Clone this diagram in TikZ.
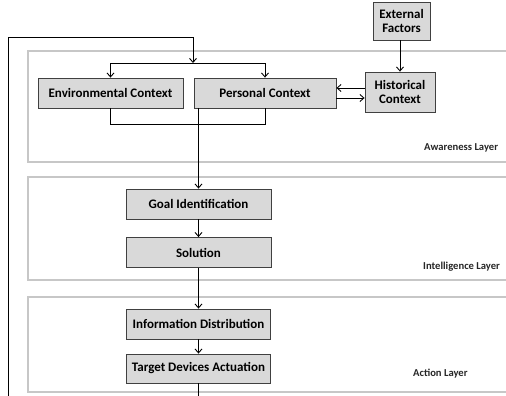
\documentclass[tikz,border=0pt]{standalone}
\usepackage{fontspec}
\setmainfont{Carlito}
\usepackage{tikz}
\usetikzlibrary{arrows,arrows.meta}
\usetikzlibrary{positioning,fit,calc}

\begin{document}
\begin{tikzpicture}[
  node distance=10mm,
  layerTitle/.style={font=\fontsize{10.6}{10.6}\selectfont\bfseries\color{black!85}, anchor=west, inner sep=0pt},
  flow/.style={-{Straight Barb[length=4pt,width=7pt]}, line width=0.9pt, black}
]
	\tikzstyle{contextBox} = [rectangle, minimum width=145pt, minimum height=30pt, text centered, draw=black!75, fill=black!15, line width=0.8pt, font=\fontsize{13}{13}\selectfont\bfseries]
	\tikzstyle{sideBox} = [rectangle, minimum width=70pt, minimum height=40pt, align=center, draw=black!75, fill=black!15, line width=0.8pt, font=\fontsize{13}{14.5}\selectfont\bfseries]
	\tikzstyle{layerBox} = [rectangle, draw=black!22, line width=1.6pt, anchor=north west, minimum width=500pt]

	\useasboundingbox (0,0) rectangle (506pt,-396pt);

	% layers
	\node (awarenessLayer) [layerBox, minimum height=111pt] at (27pt,-50pt) {};
	\node (intelligenceLayer) [layerBox, minimum height=103pt] at (27pt,-176pt) {};
	\node (actionLayer) [layerBox, minimum height=95pt] at (27pt,-296pt) {};
	\node (awarenessLabel) [layerTitle] at (424pt,-148pt) {Awareness Layer};
	\node (intelligenceLabel) [layerTitle] at (423pt,-267pt) {Intelligence Layer};
	\node (actionLabel) [layerTitle] at (413pt,-374pt) {Action Layer};

	% awareness layer
	\node (envContext) [contextBox] at (110.5pt,-93pt) {Environmental Context};
	\node (personalContext) [contextBox, minimum width=142pt, right of=envContext, node distance=154.5pt] {Personal Context};
	\node (historicalContext) [sideBox, right of=personalContext, node distance=135pt, yshift=1pt] {Historical\\Context};
	\node (externalFactors) [sideBox, minimum width=57pt, minimum height=38pt, above of=historicalContext, node distance=71pt, xshift=1.5pt] {External\\Factors};

	% intelligence layer
	\node (goalId) [contextBox, below of=personalContext, node distance=111pt, xshift=-66.5pt] {Goal Identification};
	\node (solution) [contextBox, below of=goalId, node distance=48.5pt] {Solution};

	% action layer
	\node (infoDist) [contextBox, minimum width=144pt, below of=solution, node distance=71.5pt] {Information Distribution};
	\node (targetActuation) [contextBox, minimum width=144pt, minimum height=29pt, below of=infoDist, node distance=44.5pt] {Target Devices Actuation};

	\coordinate (contextSplit) at (193pt,-63pt);

	% connectors
	\draw[flow] (targetActuation.south) -- ++(0,-20pt) -| (8pt,-37.5pt) -| (contextSplit);
	\draw[flow] (contextSplit) -| (envContext.north);
	\draw[flow] (contextSplit) -| (personalContext.north);
	\draw[line width=0.9pt] (envContext.south) -- ++(0,-16pt) -| (personalContext.south);
	\draw[flow] (externalFactors.south -| historicalContext.north) -- (historicalContext.north);
	\draw[flow] ([yshift=4pt]historicalContext.west) -- ([yshift=4pt]historicalContext.west -| personalContext.east);
	\draw[flow] ([yshift=-6pt]historicalContext.west -| personalContext.east) -- ([yshift=-6pt]historicalContext.west);
	\draw[flow] (goalId.north |- personalContext.south) -- (goalId.north);
	\draw[flow] (goalId) -- (solution);
	\draw[flow] (solution) -- (infoDist);
	\draw[flow] (infoDist) -- (targetActuation);
\end{tikzpicture}
\end{document}
